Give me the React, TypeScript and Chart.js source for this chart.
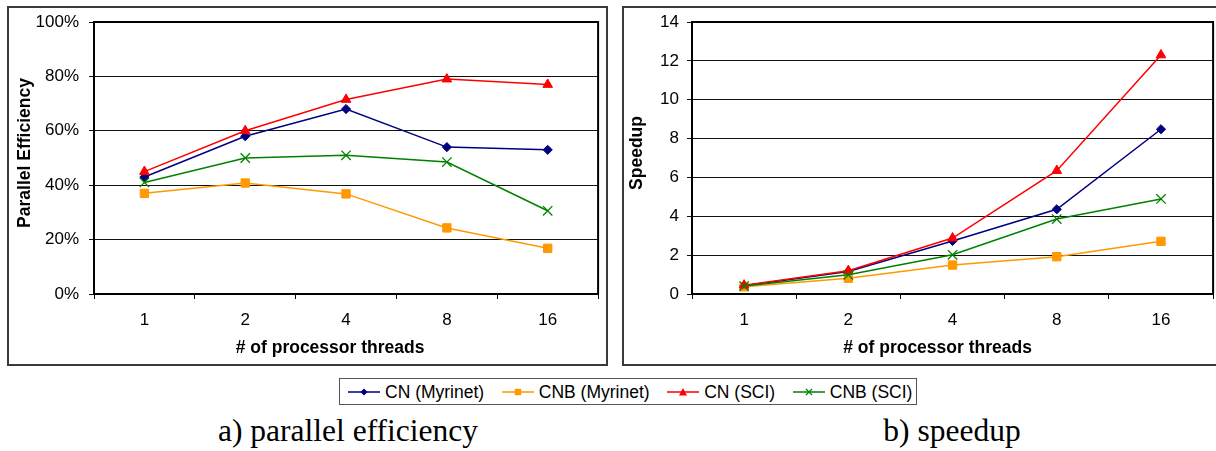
import React, { useEffect, useRef } from 'react';
import { Chart, registerables } from 'chart.js';

Chart.register(...registerables);

const threads = ['1', '2', '4', '8', '16'];

const seriesNames = ['CN (Myrinet)', 'CNB (Myrinet)', 'CN (SCI)', 'CNB (SCI)'];

// Parallel efficiency in percent
const effCnMyrinet = [43, 58, 68, 54, 53];
const effCnbMyrinet = [37, 40.8, 36.8, 24.3, 16.8];
const effCnSci = [45, 60, 71.5, 79, 77];
const effCnbSci = [41, 50, 51, 48.5, 30.6];

// Speedup
const spCnMyrinet = [0.43, 1.16, 2.73, 4.36, 8.48];
const spCnbMyrinet = [0.37, 0.81, 1.49, 1.92, 2.71];
const spCnSci = [0.45, 1.2, 2.88, 6.35, 12.3];
const spCnbSci = [0.41, 0.99, 2.02, 3.86, 4.89];

const effMax = 100;
const effStep = 20;
const spMax = 14;
const spStep = 2;

const SANS = '"Liberation Sans", Arial, sans-serif';
const SERIF = '"Liberation Serif", "Times New Roman", serif';

const seriesStyles = [
  { color: '#000080', point: 'rectRot', radius: 4.6, bw: 1 },
  { color: '#FF9900', point: 'rect', radius: 5.9, bw: 1 },
  { color: '#FF0000', point: 'triangle', radius: 5.6, bw: 1 },
  { color: '#008000', point: 'crossRot', radius: 6.6, bw: 1.3 },
];

type ChartProps = {
  series: number[][];
  yMax: number;
  yStep: number;
  yFmt: (v: number) => string;
  plotLeft: number;
  tickPad: number;
  padRight: number;
  yTitle: string;
  yTitleX: number;
  xTitle: string;
  xTitleShift: number;
};

function LineChart(p: ChartProps) {
  const ref = useRef<HTMLCanvasElement | null>(null);
  useEffect(() => {
    if (!ref.current) return;
    const titlePlugin = {
      id: 'frameTitles',
      beforeDatasetsDraw(chart: any) {
        const { ctx, chartArea: a } = chart;
        ctx.save();
        ctx.strokeStyle = '#000';
        ctx.lineWidth = 2;
        ctx.beginPath();
        ctx.moveTo(a.left, a.top);
        ctx.lineTo(a.right, a.top);
        ctx.lineTo(a.right, a.bottom);
        ctx.stroke();
        ctx.restore();
      },
      afterDraw(chart: any) {
        const { ctx, chartArea: a } = chart;
        ctx.save();
        ctx.fillStyle = '#000';
        ctx.font = `bold 17.5px ${SANS}`;
        ctx.textAlign = 'center';
        ctx.textBaseline = 'middle';
        ctx.fillText(p.xTitle, (a.left + a.right) / 2 + p.xTitleShift, a.bottom + 54);
        ctx.translate(p.yTitleX, (a.top + a.bottom) / 2 - 5);
        ctx.rotate(-Math.PI / 2);
        ctx.fillText(p.yTitle, 0, 0);
        ctx.restore();
      },
    };
    const chart = new Chart(ref.current, {
      type: 'line',
      data: {
        labels: threads,
        datasets: p.series.map((d, i) => ({
          label: seriesNames[i],
          data: d,
          borderColor: seriesStyles[i].color,
          backgroundColor: seriesStyles[i].color,
          borderWidth: 1.5,
          pointStyle: seriesStyles[i].point as any,
          pointRadius: seriesStyles[i].radius,
          pointBorderWidth: seriesStyles[i].bw,
          pointBackgroundColor: seriesStyles[i].color,
          pointBorderColor: seriesStyles[i].color,
          tension: 0,
          fill: false,
          order: 4 - i,
        })),
      },
      options: {
        animation: false,
        responsive: false,
        maintainAspectRatio: false,
        layout: { padding: { top: 14, right: p.padRight, left: 0, bottom: 0 } },
        plugins: { legend: { display: false }, tooltip: { enabled: false } },
        scales: {
          x: {
            type: 'category',
            offset: true,
            grid: { offset: true, drawOnChartArea: false, drawTicks: true, tickLength: 5, color: '#000', lineWidth: 1 },
            border: { display: true, color: '#000', width: 2 },
            ticks: { font: { family: SANS, size: 17 }, color: '#000', padding: 11, maxRotation: 0, autoSkip: false },
            afterFit: (s: any) => {
              s.height = 70;
              s.paddingLeft = 0;
              s.paddingRight = 0;
            },
          },
          y: {
            min: 0,
            max: p.yMax,
            ticks: {
              stepSize: p.yStep,
              callback: (v: any) => p.yFmt(Number(v)),
              font: { family: SANS, size: 17 },
              color: '#000',
              padding: p.tickPad,
            },
            grid: { color: '#111', lineWidth: 1, tickLength: 5, drawTicks: true },
            border: { display: true, color: '#000', width: 2 },
            afterFit: (s: any) => {
              s.width = p.plotLeft;
              s.paddingTop = 0;
              s.paddingBottom = 0;
            },
          },
        },
      },
      plugins: [titlePlugin],
    });
    return () => chart.destroy();
  }, []);
  return <canvas ref={ref} width={597} height={356} style={{ display: 'block', width: 597, height: 356 }} />;
}

function LegendMarker({ kind, color }: { kind: string; color: string }) {
  let m: React.ReactNode = null;
  if (kind === 'rectRot') m = <polygon points="16,2.5 19.5,6 16,9.5 12.5,6" fill={color} />;
  else if (kind === 'rect') m = <rect x={12.8} y={2.8} width={6.4} height={6.4} fill={color} />;
  else if (kind === 'triangle') m = <polygon points="16,2 20,9.5 12,9.5" fill={color} />;
  else m = <path d="M13,3 L19,9 M19,3 L13,9" stroke={color} strokeWidth={1.2} />;
  return (
    <svg width={32} height={12} style={{ display: 'block' }}>
      <line x1={0} y1={6} x2={32} y2={6} stroke={color} strokeWidth={1.5} />
      {m}
    </svg>
  );
}

export default function App() {
  const boxStyle: React.CSSProperties = {
    position: 'absolute',
    top: 6,
    height: 360,
    border: '2px solid #3a3a3a',
    boxSizing: 'border-box',
    background: '#fff',
  };
  return (
    <div style={{ position: 'absolute', left: 0, top: 0, width: 1216, height: 451, overflow: 'hidden', background: '#fff' }}>
      <div style={{ ...boxStyle, left: 7, width: 601 }}>
        <LineChart
          series={[effCnMyrinet, effCnbMyrinet, effCnSci, effCnbSci]}
          yMax={effMax}
          yStep={effStep}
          yFmt={(v) => v + '%'}
          plotLeft={85}
          tickPad={10}
          padRight={3}
          yTitle="Parallel Efficiency"
          yTitleX={16}
          xTitle="# of processor threads"
          xTitleShift={-16}
        />
      </div>
      <div style={{ ...boxStyle, left: 622, width: 601 }}>
        <LineChart
          series={[spCnMyrinet, spCnbMyrinet, spCnSci, spCnbSci]}
          yMax={spMax}
          yStep={spStep}
          yFmt={(v) => String(v)}
          plotLeft={68}
          tickPad={8}
          padRight={4}
          yTitle="Speedup"
          yTitleX={13}
          xTitle="# of processor threads"
          xTitleShift={-15}
        />
      </div>
      <div
        style={{
          position: 'absolute',
          left: 339,
          top: 378,
          width: 578,
          height: 27,
          border: '1px solid #555',
          boxSizing: 'border-box',
          display: 'flex',
          alignItems: 'center',
          paddingLeft: 8,
          font: `17.5px ${SANS}`,
          color: '#000',
          whiteSpace: 'nowrap',
        }}
      >
        {seriesNames.map((n, i) => (
          <div key={n} style={{ display: 'flex', alignItems: 'center', marginRight: 17.6 }}>
            <LegendMarker kind={seriesStyles[i].point} color={seriesStyles[i].color} />
            <span style={{ marginLeft: 5, lineHeight: '20px' }}>{n}</span>
          </div>
        ))}
      </div>
      <div
        style={{
          position: 'absolute',
          left: 148,
          width: 400,
          top: 415,
          textAlign: 'center',
          font: `31.5px ${SERIF}`,
          lineHeight: 1,
          color: '#000',
          whiteSpace: 'nowrap',
        }}
      >
        a) parallel efficiency
      </div>
      <div
        style={{
          position: 'absolute',
          left: 752,
          width: 400,
          top: 415,
          textAlign: 'center',
          font: `31.5px ${SERIF}`,
          lineHeight: 1,
          color: '#000',
          whiteSpace: 'nowrap',
        }}
      >
        b) speedup
      </div>
    </div>
  );
}
